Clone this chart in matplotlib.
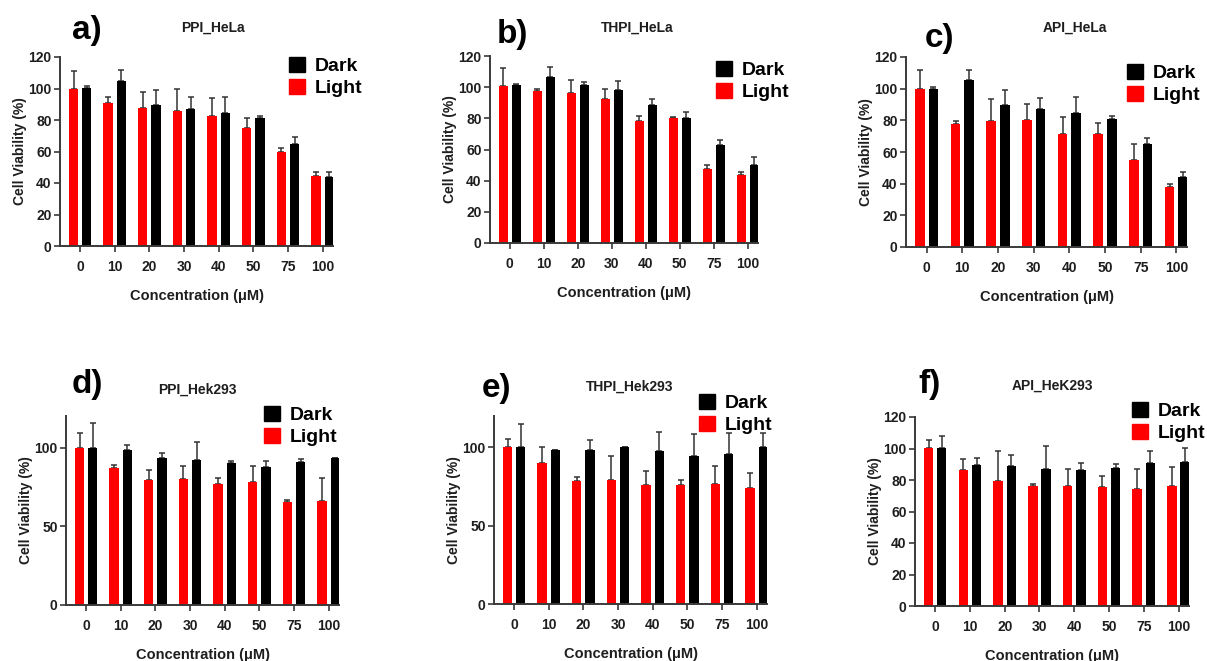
import matplotlib
matplotlib.use("Agg")
import matplotlib.pyplot as plt
import numpy as np
from matplotlib.patches import Patch

plt.rcParams['font.family'] = ['Liberation Sans', 'DejaVu Sans']
plt.rcParams['font.weight'] = 'bold'
plt.rcParams['axes.labelweight'] = 'bold'

W, H = 1207, 661

conc_labels = ['0', '10', '20', '30', '40', '50', '75', '100']

# HeLa
hela_ppi_light = [100, 91, 87.6, 85.9, 82.7, 75, 59.4, 44.3]
hela_ppi_light_err = [11, 3.3, 9.9, 14.1, 11, 6, 3.1, 2.6]
hela_ppi_dark = [100.5, 105, 89.3, 86.7, 84.4, 81, 65, 43.5]
hela_ppi_dark_err = [1, 6.5, 9.9, 7.6, 10.1, 1.7, 3.9, 3.5]

hela_thpi_light = [100.6, 97.4, 96.5, 92.2, 78, 80.3, 47.8, 43.6]
hela_thpi_light_err = [11.4, 1.6, 8.3, 6.8, 3.6, 0.4, 2.2, 2.1]
hela_thpi_dark = [101.6, 106.6, 101.6, 98, 88.8, 80.3, 62.6, 50.2]
hela_thpi_dark_err = [0.4, 6.4, 1.4, 6, 3.7, 3.6, 3.6, 4.8]

hela_api_light = [100.1, 78, 79.7, 80.5, 71.2, 71.2, 54.7, 38]
hela_api_light_err = [11.5, 1.4, 13.7, 9.9, 10.6, 7.2, 10.3, 1.5]
hela_api_dark = [100.1, 105.2, 89.6, 87, 84.5, 81.1, 65.3, 43.9]
hela_api_dark_err = [1.1, 6.4, 9.7, 7.4, 10.2, 1.7, 3.8, 3.4]

# Hek293
hek_ppi_light = [100, 87, 79.6, 80.3, 76.9, 77.9, 65.2, 66]
hek_ppi_light_err = [9.3, 1.7, 6.4, 8.2, 3.6, 10.6, 1.7, 14.7]
hek_ppi_dark = [100, 98.5, 93.6, 91.9, 90.4, 87.7, 91.1, 93.6]
hek_ppi_dark_err = [15.5, 3.4, 3, 11.5, 1.3, 3.6, 1.3, 0]

hek_thpi_light = [100, 90.2, 78.6, 79.4, 76, 75.8, 76.6, 74.3]
hek_thpi_light_err = [5.1, 10.2, 2.5, 14.9, 9.1, 3.2, 11.3, 9.4]
hek_thpi_dark = [100, 98.1, 98.5, 100.2, 97.7, 94.5, 96, 100]
hek_thpi_dark_err = [15, 0.2, 6, 0.2, 12.3, 14.2, 13.1, 9]

hek_api_light = [100.3, 86.3, 79.5, 76.1, 76.1, 75.5, 74.4, 76.1]
hek_api_light_err = [5.3, 7.2, 18.9, 1.5, 10.8, 7, 12.3, 11.9]
hek_api_dark = [100.3, 89.5, 88.8, 87.1, 86.3, 87.8, 90.5, 91.2]
hek_api_dark_err = [7.6, 4.6, 6.8, 14.2, 4.6, 2.3, 8.1, 9]

TXT = '#1e1e1e'
AX = '#3a3a3a'

fig = plt.figure(figsize=(W / 100, H / 100), dpi=100)


def fx(x):
    return x / W


def fy(y):
    return 1 - y / H


def panel(box, light, light_err, dark, dark_err, yticks, letter, letter_xy,
          title, title_xy, leg_xy):
    l, r, t, b = box
    ax = fig.add_axes([fx(l), fy(b), fx(r - l), (b - t) / H])
    x = np.arange(len(conc_labels))
    w = 0.27
    ax.bar(x - 0.19, light, w, color='#ff0000', zorder=2)
    ax.bar(x + 0.19, dark, w, color='#000000', zorder=2)
    # one-sided (upper) error bars
    ekw = dict(fmt='none', ecolor='#333333', elinewidth=1.1, capsize=2.5,
               capthick=1.1, zorder=1)
    ax.errorbar(x - 0.19, light, yerr=[np.zeros(len(light)), light_err], **ekw)
    ax.errorbar(x + 0.19, dark, yerr=[np.zeros(len(dark)), dark_err], **ekw)

    ax.set_xlim(-0.58, 7.3)
    ax.set_ylim(0, 120)
    ax.set_yticks(yticks)
    ax.set_xticks(x)
    ax.set_xticklabels(conc_labels)
    for s in ['top', 'right']:
        ax.spines[s].set_visible(False)
    for s in ['left', 'bottom']:
        ax.spines[s].set_color(AX)
        ax.spines[s].set_linewidth(1.4)
    ax.tick_params(axis='both', colors=AX, width=1.2, length=4,
                   labelcolor=TXT, labelsize=10)
    ax.tick_params(axis='x', pad=6)
    ax.tick_params(axis='y', pad=2)
    ax.set_ylabel('Cell Viability (%)', fontsize=10, color=TXT, labelpad=1)
    ax.set_xlabel('Concentration (μM)', fontsize=10.5, color=TXT, labelpad=11)

    fig.text(fx(letter_xy[0]), fy(letter_xy[1]), letter, fontsize=24,
             fontweight='bold', ha='left', va='center', color='#000000')
    fig.text(fx(title_xy[0]), fy(title_xy[1]), title, fontsize=10,
             fontweight='bold', ha='center', va='center', color=TXT)
    handles = [Patch(color='#000000', label='Dark'),
               Patch(color='#ff0000', label='Light')]
    fig.legend(handles=handles, loc='upper left',
               bbox_to_anchor=(fx(leg_xy[0]), fy(leg_xy[1])),
               frameon=False, fontsize=14, handlelength=0.8,
               handleheight=0.8, handletextpad=0.5, labelspacing=0.2,
               borderpad=0, borderaxespad=0)
    return ax


ticks_20 = [0, 20, 40, 60, 80, 100, 120]
ticks_50 = [0, 50, 100]

panel((60, 333, 57, 246), hela_ppi_light, hela_ppi_light_err,
      hela_ppi_dark, hela_ppi_dark_err, ticks_20, 'a)', (72, 30),
      'PPI_HeLa', (213, 28), (289, 57))
panel((490, 758, 56, 243), hela_thpi_light, hela_thpi_light_err,
      hela_thpi_dark, hela_thpi_dark_err, ticks_20, 'b)', (497, 34),
      'THPI_HeLa', (637, 28), (716, 61))
panel((906, 1187, 57, 247), hela_api_light, hela_api_light_err,
      hela_api_dark, hela_api_dark_err, ticks_20, 'c)', (925, 38),
      'API_HeLa', (1075, 28), (1127, 64))
panel((66, 339, 416, 605), hek_ppi_light, hek_ppi_light_err,
      hek_ppi_dark, hek_ppi_dark_err, ticks_50, 'd)', (72, 385),
      'PPI_Hek293', (197, 390), (264, 406))
panel((494, 767, 416, 604), hek_thpi_light, hek_thpi_light_err,
      hek_thpi_dark, hek_thpi_dark_err, ticks_50, 'e)', (482, 388),
      'THPI_Hek293', (630, 387), (699, 394))
panel((915, 1189, 417, 606), hek_api_light, hek_api_light_err,
      hek_api_dark, hek_api_dark_err, ticks_20, 'f)', (918, 385),
      'API_HeK293', (1052, 386), (1132, 402))

fig.savefig('out.png', dpi=100)
